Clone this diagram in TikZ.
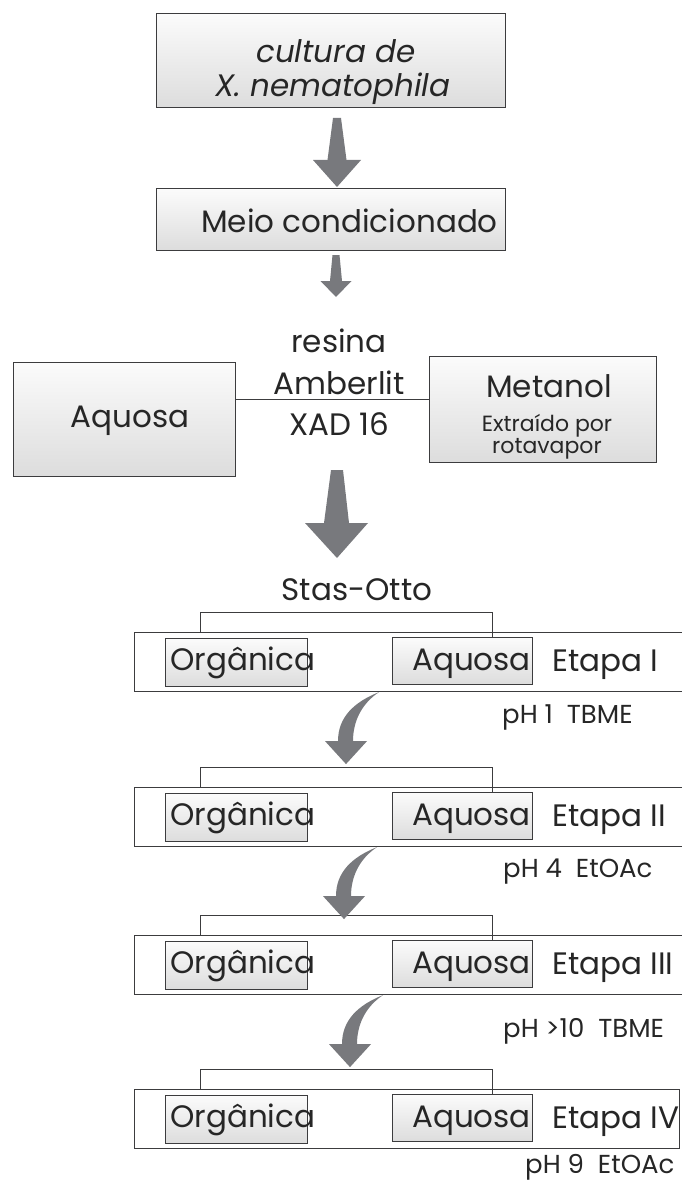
\documentclass[tikz,border=0pt]{standalone}
\usepackage{fontspec}
\setmainfont{Poppins}
\definecolor{arrowgray}{RGB}{120,121,125}
\definecolor{boxline}{RGB}{60,60,62}

\begin{document}
\begin{tikzpicture}[x=1pt,y=-1pt,
    gbox/.style={draw=boxline,line width=1.2pt,top color=gray!3,bottom color=gray!27,inner sep=0pt},
    stagebox/.style={draw=boxline,line width=1.1pt,fill=white,inner sep=0pt},
    bracket/.style={draw=boxline,line width=1pt},
    blockarrow/.style={fill=arrowgray},
    txt/.style={inner sep=0pt,text=black!85,font=\fontsize{31}{36}\selectfont},
    smalltxt/.style={inner sep=0pt,text=black!85,font=\fontsize{22}{22}\selectfont},
    phtxt/.style={inner sep=0pt,text=black!85,font=\fontsize{26}{26}\selectfont}]
\useasboundingbox (0,0) rectangle (681,1182);

\node[gbox,anchor=north west,minimum width=349pt,minimum height=94pt] (cultura) at (156,13) {};
\node[txt,anchor=base,font=\fontsize{31}{36}\selectfont\itshape] (culturatxt) at (336,63) {cultura de};
\node[txt,anchor=base,font=\fontsize{31}{36}\selectfont\itshape] (xnema) at (333,97) {X. nematophila};

\node[gbox,anchor=north west,minimum width=349pt,minimum height=62pt] (meio) at (156,188) {};
\node[txt,anchor=base east] (meiotxt) at (498,233) {Meio condicionado};

\node[gbox,anchor=north west,minimum width=222pt,minimum height=114pt] (aquosa) at (13,362) {};
\node[txt,anchor=base] (aquosatxt) at (130,427) {Aquosa};
\node[gbox,anchor=north west,minimum width=227pt,minimum height=106pt] (metanol) at (429,356) {};
\node[txt,anchor=base] (metanoltxt) at (549,397) {Metanol};
\node[smalltxt,anchor=base] (extraido) at (547,431) {Extraído por};
\node[smalltxt,anchor=base] (rotavapor) at (547,453) {rotavapor};

\node[txt,anchor=base] (resina) at (339,352) {resina};
\node[txt,anchor=base] (amberlit) at (339,394) {Amberlit};
\node[txt,anchor=base] (xad) at (339,435) {XAD 16};
\coordinate (resin) at (339,399);
\draw[draw=boxline,line width=1pt] (aquosa.east |- resin) -- (metanol.west |- resin);

\fill[blockarrow] (333,118) -- (341,118) -- (346.5,160) -- (361,160) -- (337,187) -- (313,160) -- (327.5,160) -- cycle;
\fill[blockarrow] (332.5,255) -- (339.5,255) -- (342,281) -- (351.5,281) -- (336,297) -- (320.5,281) -- (330,281) -- cycle;
\fill[blockarrow] (331,470) -- (343,470) -- (349,523) -- (368,523) -- (337,558) -- (305,523) -- (324,523) -- cycle;

\node[txt,anchor=base] (stas) at (357,600) {Stas-Otto};

\foreach \t/\r/\e/\pb/\px/\ph [count=\i] in {632/683/I/723/502/{pH 1\ \ TBME},787/683/II/877/503/{pH 4\ \ EtOAc},935/683/III/1037/503/{pH >10\ \ TBME},1089/679/IV/1173/525/{pH 9\ \ EtOAc}} {
  \node[stagebox,anchor=north west,minimum width={(\r-134)*1pt},minimum height=59pt] (etapa\i) at (134,\t) {};
  \node[gbox,anchor=north west,minimum width=142pt,minimum height=48pt] (orgbox\i) at (165,\t+6) {};
  \node[gbox,anchor=north west,minimum width=140pt,minimum height=47pt] (aqbox\i) at (392,\t+5) {};
  \node[txt,anchor=base west] (orgtxt\i) at (170,\t+38) {Orgânica};
  \node[txt,anchor=base west] (aqtxt\i) at (412,\t+38) {Aquosa};
  \node[txt,anchor=base west] (etapatxt\i) at (552,\t+39) {Etapa \e};
  \node[phtxt,anchor=base west] (ph\i) at (\px,\pb) {\ph};
  \draw[bracket] ([xshift=66pt]etapa\i.north west) -- ++(0,-20) -| ([xshift=100pt]aqbox\i.north west);
}

\foreach \sx/\i in {379/1,377/2,383/3} {
  \coordinate (bend\i) at (\sx,0 |- etapa\i.south);
  \begin{scope}[shift={(bend\i)}]
    \fill[blockarrow] (0,0) .. controls (-25,10) and (-41,25) .. (-41,49) -- (-54,49) -- (-33,72) -- (-12,49) -- (-26,49) .. controls (-26,30) and (-18,12) .. (0,0) -- cycle;
  \end{scope}
}
\end{tikzpicture}
\end{document}
